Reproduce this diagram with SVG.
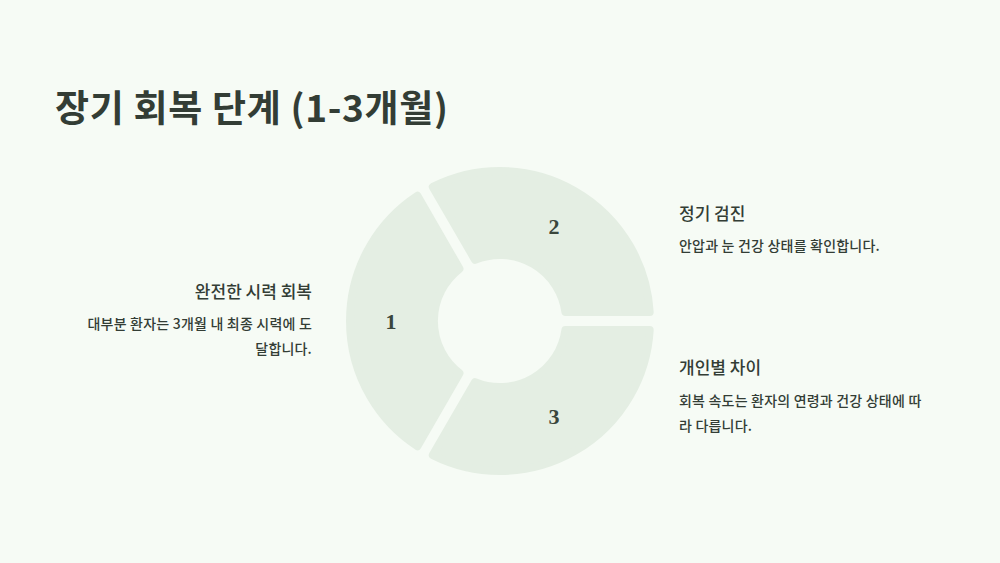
<svg xmlns="http://www.w3.org/2000/svg" width="1000" height="563" viewBox="0 0 1000 563">
<style>
.seg{fill:#e4eee3;stroke:#e4eee3;stroke-width:8;stroke-linejoin:round}
.num{font-family:"Liberation Serif",serif;font-weight:bold;font-size:22px;fill:#3a463c;text-anchor:middle}
.h{font-family:"Noto Sans CJK KR",sans-serif;font-size:17px;font-weight:500;fill:#333d35}
.b{font-family:"Noto Sans CJK KR",sans-serif;font-size:14px;font-weight:500;fill:#333d35;letter-spacing:0.2px}
</style>
<rect width="1000" height="563" fill="#f6fbf5"/>
<text x="55" y="122" font-family="Noto Sans CJK KR, sans-serif" font-weight="bold" font-size="37" fill="#333d35" textLength="393">장기 회복 단계 (1-3개월)</text>
<g id="seg1"><path class="seg" d="M417.4,446.2 A150,150 0 0 1 417.4,195.8 L459.5,268.8 A66,66 0 0 0 459.5,373.2 Z"/><text class="num" x="391" y="329">1</text></g>
<g id="seg2"><path class="seg" d="M432.8,186.9 A150,150 0 0 1 649.7,312.1 L565.4,312 A66,66 0 0 0 475.1,259.9 Z"/><text class="num" x="554" y="234">2</text></g>
<g id="seg3"><path class="seg" d="M649.7,329.9 A150,150 0 0 1 432.8,455.1 L475.1,382.1 A66,66 0 0 0 565.4,330 Z"/><text class="num" x="554" y="424">3</text></g>
<g id="left" text-anchor="end"><text class="h" x="312" y="298">완전한 시력 회복</text><text class="b" x="312" y="329">대부분 환자는 3개월 내 최종 시력에 도</text><text class="b" x="312" y="354">달합니다.</text></g>
<g id="right1"><text class="h" x="679" y="220">정기 검진</text><text class="b" x="679" y="251">안압과 눈 건강 상태를 확인합니다.</text></g>
<g id="right2"><text class="h" x="679" y="374">개인별 차이</text><text class="b" x="679" y="406">회복 속도는 환자의 연령과 건강 상태에 따</text><text class="b" x="679" y="431">라 다릅니다.</text></g>
<g id="connectors"/>
</svg>
